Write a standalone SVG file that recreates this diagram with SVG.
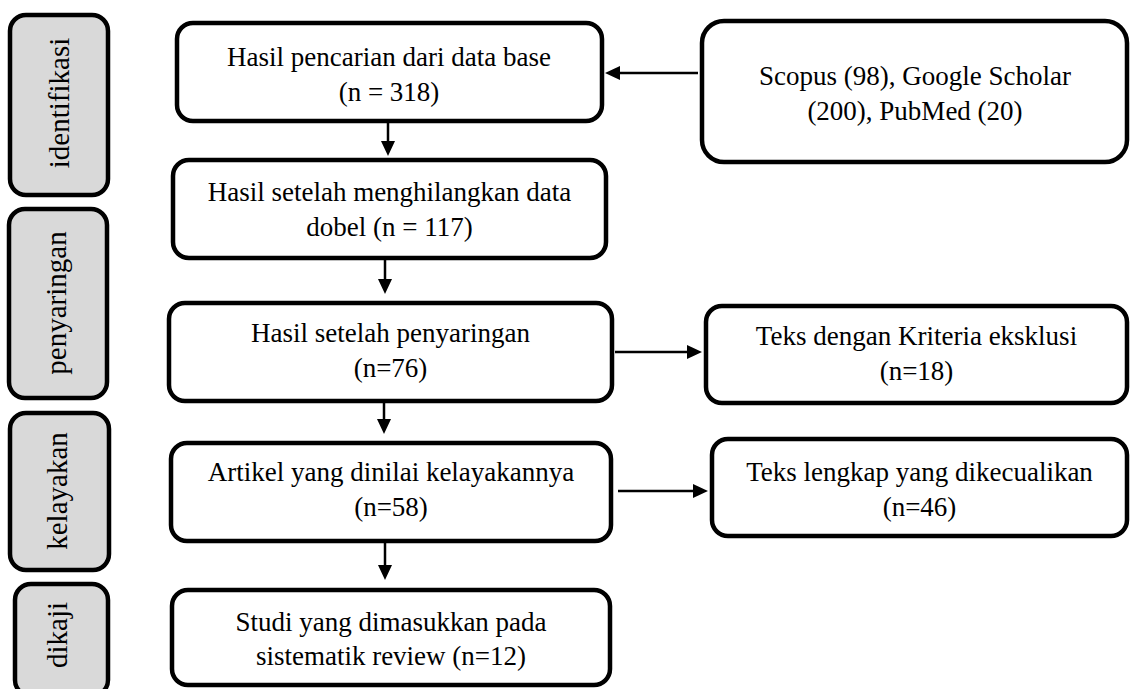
<svg xmlns="http://www.w3.org/2000/svg" width="1132" height="689" viewBox="0 0 1132 689">
<style>
.box{fill:#ffffff;stroke:#000000;stroke-width:4.5}
.lab{fill:#d9d9d9;stroke:#000000;stroke-width:4.5}
.t{font-family:'Liberation Serif','Times New Roman',serif;font-size:27px;fill:#000000;text-anchor:middle}
.v{font-size:29px}
.c{fill:none;stroke:#000000;stroke-width:2.5}
</style>
<defs>
<marker id="ah" markerUnits="userSpaceOnUse" markerWidth="15" markerHeight="14" refX="0" refY="7" orient="auto" viewBox="0 0 15 14">
<path d="M0,0 L15,7 L0,14 z" fill="#000000"/>
</marker>
</defs>
<rect width="1132" height="689" fill="#ffffff"/>
<g id="label-identifikasi">
<rect class="lab" x="10" y="15" width="98" height="180" rx="16"/>
<text class="t v" transform="translate(69,103) rotate(-90)">identifikasi</text>
</g>
<g id="label-penyaringan">
<rect class="lab" x="9" y="209" width="98" height="189" rx="16"/>
<text class="t v" transform="translate(66,303) rotate(-90)">penyaringan</text>
</g>
<g id="label-kelayakan">
<rect class="lab" x="10" y="413" width="99" height="157" rx="16"/>
<text class="t v" transform="translate(67,491) rotate(-90)">kelayakan</text>
</g>
<g id="label-dikaji">
<rect class="lab" x="15" y="584" width="93" height="112" rx="16"/>
<text class="t v" transform="translate(67,635) rotate(-90)">dikaji</text>
</g>
<g id="box-pencarian">
<rect class="box" x="177" y="23" width="425" height="98" rx="16"/>
<text class="t" x="389" y="66">Hasil pencarian dari data base</text>
<text class="t" x="389" y="101">(n = 318)</text>
</g>
<g id="box-sumber">
<rect class="box" x="702" y="21" width="425" height="141" rx="22"/>
<text class="t" x="915" y="85">Scopus (98), Google Scholar</text>
<text class="t" x="915" y="120">(200), PubMed (20)</text>
</g>
<g id="box-dobel">
<rect class="box" x="173" y="160" width="433" height="98" rx="16"/>
<text class="t" x="389.5" y="201">Hasil setelah menghilangkan data</text>
<text class="t" x="389.5" y="236">dobel (n = 117)</text>
</g>
<g id="box-penyaringan">
<rect class="box" x="169" y="303" width="443" height="98" rx="16"/>
<text class="t" x="390.5" y="342">Hasil setelah penyaringan</text>
<text class="t" x="390.5" y="377">(n=76)</text>
</g>
<g id="box-eksklusi">
<rect class="box" x="706" y="306" width="421" height="97" rx="16"/>
<text class="t" x="916.5" y="345">Teks dengan Kriteria eksklusi</text>
<text class="t" x="916.5" y="380">(n=18)</text>
</g>
<g id="box-kelayakan">
<rect class="box" x="171" y="443" width="440" height="98" rx="16"/>
<text class="t" x="391" y="481">Artikel yang dinilai kelayakannya</text>
<text class="t" x="391" y="516">(n=58)</text>
</g>
<g id="box-dikecualikan">
<rect class="box" x="712" y="439" width="415" height="97" rx="16"/>
<text class="t" x="919.5" y="481">Teks lengkap yang dikecualikan</text>
<text class="t" x="919.5" y="516">(n=46)</text>
</g>
<g id="box-studi">
<rect class="box" x="172" y="590" width="438" height="95" rx="16"/>
<text class="t" x="391" y="631">Studi yang dimasukkan pada</text>
<text class="t" x="391" y="665">sistematik review (n=12)</text>
</g>
<g id="connectors">
<path class="c" d="M388,123 L388,141" marker-end="url(#ah)"/>
<path class="c" d="M385,260 L385,279" marker-end="url(#ah)"/>
<path class="c" d="M384,403 L384,419" marker-end="url(#ah)"/>
<path class="c" d="M385,543 L385,565" marker-end="url(#ah)"/>
<path class="c" d="M698,73 L620,73" marker-end="url(#ah)"/>
<path class="c" d="M615,352 L687,352" marker-end="url(#ah)"/>
<path class="c" d="M618,491 L693,491" marker-end="url(#ah)"/>
</g>
</svg>
